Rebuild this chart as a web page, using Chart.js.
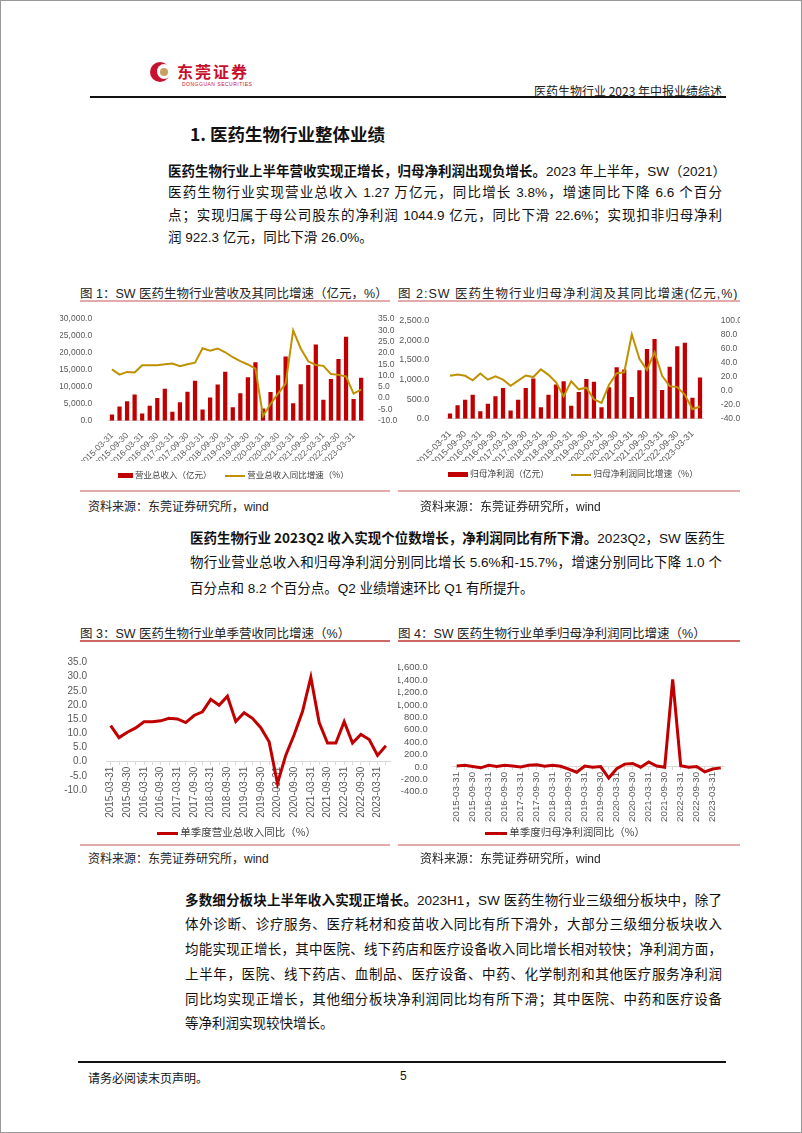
<!DOCTYPE html>
<html lang="zh-CN">
<head>
<meta charset="UTF-8">
<title>医药生物行业2023年中报业绩综述</title>
<script src="https://cdn.jsdelivr.net/npm/chart.js@4.4.0/dist/chart.umd.min.js"></script>
<style>
  body { margin:0; width:802px; height:1133px; position:relative; background:#fff; overflow:hidden;
         font-family:"Liberation Sans","Noto Sans CJK SC",sans-serif; color:#111; }
  .a { position:absolute; }
  .ln { position:absolute; text-align:justify; text-align-last:justify; white-space:nowrap; }
  .ln.last { text-align-last:left; }
  .p1 { font-size:13.5px; height:22px; line-height:22px; }
  b { font-family:"Noto Sans CJK SC",sans-serif; font-weight:700; }
  .cap { font-size:12.5px; color:#222; white-space:nowrap; }
  .src { font-size:12px; color:#222; white-space:nowrap; }
  .rule { position:absolute; height:1.5px; }
  .leg { position:absolute; font-family:"Noto Sans CJK SC",sans-serif; color:#404040; white-space:nowrap; }
  .leg i { display:inline-block; vertical-align:middle; }
  canvas { position:absolute; }
</style>
</head>
<body>
<div class="a" style="left:0;top:0;width:800px;height:1131px;border:1px solid #999"></div>

<!-- header -->
<div class="a" style="left:150px;top:62px;width:20px;height:20px;border-radius:50%;background:#C8102E"></div>
<div class="a" style="left:157px;top:64px;width:14px;height:15px;border-radius:50%;background:#fff"></div>
<div class="a" style="left:160px;top:68px;width:8px;height:8px;border-radius:50%;background:#C9A063"></div>
<div class="a" style="left:177px;top:59px;font-size:16px;font-weight:700;color:#C8102E;letter-spacing:2px;font-family:'Noto Sans CJK SC'">东莞证券</div>
<div class="a" style="left:182px;top:81px;font-size:5px;color:#C8102E;letter-spacing:0.5px">DONGGUAN SECURITIES</div>
<div class="a" style="left:500px;top:82px;width:222px;text-align:right;font-size:12px;color:#222;white-space:nowrap;font-family:'Noto Sans CJK SC'">医药生物行业 2023 年中报业绩综述</div>
<div class="rule" style="left:90px;top:96px;width:636px;background:#111"></div>

<div class="a" style="left:190px;top:121px;font-size:17.5px;font-weight:700;font-family:'Noto Sans CJK SC'">1. 医药生物行业整体业绩</div>

<div class="ln p1" style="left:168px;top:159px;width:554px"><b>医药生物行业上半年营收实现正增长，归母净利润出现负增长。</b>2023 年上半年，SW（2021）</div>
<div class="ln p1" style="left:168px;top:182px;width:554px">医药生物行业实现营业总收入 1.27 万亿元，同比增长 3.8%，增速同比下降 6.6 个百分</div>
<div class="ln p1" style="left:168px;top:205px;width:554px">点；实现归属于母公司股东的净利润 1044.9 亿元，同比下滑 22.6%；实现扣非归母净利</div>
<div class="ln p1 last" style="left:168px;top:227px;width:554px">润 922.3 亿元，同比下滑 26.0%。</div>

<!-- figure 1 / 2 -->
<div class="a cap" style="left:80px;top:283px">图 1：SW 医药生物行业营收及其同比增速（亿元，%）</div>
<div class="a cap" style="left:398px;top:283px;letter-spacing:1px">图 2:SW 医药生物行业归母净利润及其同比增速(亿元,%)</div>
<div class="rule" style="left:80px;top:300px;width:310px;background:#E2AAAA"></div>
<div class="rule" style="left:398px;top:300px;width:342px;background:#E2AAAA"></div>
<canvas id="c1" width="340" height="180" style="left:60px;top:306px"></canvas>
<canvas id="c2" width="342" height="180" style="left:398px;top:306px"></canvas>
<div class="leg" style="left:118px;top:468px;font-size:8.5px"><i style="width:15px;height:5px;background:#C00000"></i> 营业总收入（亿元）<span style="display:inline-block;width:14px"></span><i style="width:20px;height:2px;background:#BF9000"></i> 营业总收入同比增速（%）</div>
<div class="leg" style="left:448px;top:467px;font-size:8.8px"><i style="width:20px;height:5px;background:#C00000"></i> 归母净利润（亿元）<span style="display:inline-block;width:22px"></span><i style="width:20px;height:2px;background:#BF9000"></i> 归母净利润同比增速（%）</div>
<div class="rule" style="left:80px;top:490px;width:310px;background:#E2AAAA"></div>
<div class="rule" style="left:398px;top:490px;width:342px;background:#E2AAAA"></div>
<div class="a src" style="left:88px;top:497px">资料来源：东莞证券研究所，wind</div>
<div class="a src" style="left:420px;top:497px">资料来源：东莞证券研究所，wind</div>

<div class="ln p1" style="left:190px;top:524px;width:532px;height:26px;line-height:26px"><b>医药生物行业 2023Q2 收入实现个位数增长，净利润同比有所下滑。</b>2023Q2，SW 医药生</div>
<div class="ln p1" style="left:190px;top:550px;width:532px;height:26px;line-height:26px">物行业营业总收入和归母净利润分别同比增长 5.6%和-15.7%，增速分别同比下降 1.0 个</div>
<div class="ln p1 last" style="left:190px;top:576px;width:532px;height:26px;line-height:26px">百分点和 8.2 个百分点。Q2 业绩增速环比 Q1 有所提升。</div>

<!-- figure 3 / 4 -->
<div class="a cap" style="left:80px;top:623px">图 3：SW 医药生物行业单季营收同比增速（%）</div>
<div class="a cap" style="left:398px;top:623px">图 4：SW 医药生物行业单季归母净利润同比增速（%）</div>
<div class="rule" style="left:80px;top:640px;width:310px;background:#D06868"></div>
<div class="rule" style="left:398px;top:640px;width:342px;background:#D06868"></div>
<canvas id="c3" width="340" height="200" style="left:60px;top:645px"></canvas>
<canvas id="c4" width="342" height="200" style="left:398px;top:645px"></canvas>
<div class="leg" style="left:157px;top:824px;font-size:10.5px"><i style="width:21px;height:3px;background:#C00000"></i> 单季度营业总收入同比（%）</div>
<div class="leg" style="left:485px;top:824px;font-size:10.5px"><i style="width:22px;height:3px;background:#C00000"></i> 单季度归母净利润同比（%）</div>
<div class="rule" style="left:80px;top:844px;width:310px;background:#E2AAAA"></div>
<div class="rule" style="left:398px;top:844px;width:342px;background:#E2AAAA"></div>
<div class="a src" style="left:88px;top:849px">资料来源：东莞证券研究所，wind</div>
<div class="a src" style="left:420px;top:849px">资料来源：东莞证券研究所，wind</div>

<div class="ln p1" style="left:185px;top:887px;width:537px;height:25px;line-height:25px"><b>多数细分板块上半年收入实现正增长。</b>2023H1，SW 医药生物行业三级细分板块中，除了</div>
<div class="ln p1" style="left:185px;top:912px;width:537px;height:25px;line-height:25px">体外诊断、诊疗服务、医疗耗材和疫苗收入同比有所下滑外，大部分三级细分板块收入</div>
<div class="ln p1" style="left:185px;top:937px;width:537px;height:25px;line-height:25px">均能实现正增长，其中医院、线下药店和医疗设备收入同比增长相对较快；净利润方面，</div>
<div class="ln p1" style="left:185px;top:962px;width:537px;height:25px;line-height:25px">上半年，医院、线下药店、血制品、医疗设备、中药、化学制剂和其他医疗服务净利润</div>
<div class="ln p1" style="left:185px;top:987px;width:537px;height:25px;line-height:25px">同比均实现正增长，其他细分板块净利润同比均有所下滑；其中医院、中药和医疗设备</div>
<div class="ln p1 last" style="left:185px;top:1011px;width:537px;height:25px;line-height:25px">等净利润实现较快增长。</div>

<!-- footer -->
<div class="rule" style="left:78px;top:1061px;width:648px;background:#111"></div>
<div class="a" style="left:88px;top:1069px;font-size:12px;font-family:'Noto Sans CJK SC'">请务必阅读末页声明。</div>
<div class="a" style="left:400px;top:1069px;font-size:12px">5</div>

<script>
// 季度标签 2015Q1 - 2023Q2
const quarters = [
  '2015-03-31','2015-06-30','2015-09-30','2015-12-31',
  '2016-03-31','2016-06-30','2016-09-30','2016-12-31',
  '2017-03-31','2017-06-30','2017-09-30','2017-12-31',
  '2018-03-31','2018-06-30','2018-09-30','2018-12-31',
  '2019-03-31','2019-06-30','2019-09-30','2019-12-31',
  '2020-03-31','2020-06-30','2020-09-30','2020-12-31',
  '2021-03-31','2021-06-30','2021-09-30','2021-12-31',
  '2022-03-31','2022-06-30','2022-09-30','2022-12-31',
  '2023-03-31','2023-06-30'
];

// 图1 营业总收入（亿元，累计）及同比（%）
const revenue = [1810,4190,5710,7710, 2100,4380,6670,9430, 2670,5430,8570,11810, 3330,6860,10670,14480,
                 4000,8100,12860,17240, 3620,8480,13430,18950, 5140,10760,16480,22480, 6190,12290,18190,24760, 6380,12670];
const revenueYoY = [12.7,10.4,11.6,11.4, 14.6,14.6,14.6,15.0, 15.3,14.1,15.0,15.7, 22.1,21.0,22.0,20.3,
                    18.1,16.4,14.9,13.1, -7.9,-2.6,2.0,6.4, 30.0,22.0,16.3,14.7, 14.3,10.7,10.3,9.6, 2.0,3.8];

// 图2 归母净利润（亿元，累计）及同比（%）
const profit = [130,340,480,610, 190,380,570,780, 210,480,780,1020, 290,610,870,950,
                330,680,1010,940, 290,800,1310,1250, 550,1230,1770,2030, 730,1320,1840,1930, 530,1045];
const profitYoY = [21.1,22.9,21.1,14.7, 24.3,15.6,20.2,15.6, 6.9,14.2,21.6,19.3, 30.3,22.5,11.9,-8.3,
                   13.3,1.8,4.1,-12.4, -17.4,8.3,24.8,26.1, 80.3,45.4,29.4,54.6, 21.1,6.4,5.0,-6.0, -26.6,-22.6];

// 图3 单季度营业总收入同比（%）
const qRevenueYoY = [12.7,8.5,10.4,11.9, 14.1,14.1,14.4,15.3, 15.1,13.8,16.3,17.6, 22.0,19.9,23.1,14.2,
                     17.3,15.3,12.0,7.0, -7.7,2.3,9.5,17.7, 29.8,13.8,6.6,6.6, 14.1,6.6,9.6,7.8, 2.2,5.6];

// 图4 单季度归母净利润同比（%）
const qProfitYoY = [15,25,5,-15, 25,5,25,15, 0,25,35,10, 25,10,-35,-85,
                    15,-5,5,-180, -30,45,55,-5, 80,15,-5,1410, 20,-5,5,-80, -35,-15.7];

const RED = '#C00000', GOLD = '#BF9000', TICK = '#595959';
const fmt1 = v => Number(v).toLocaleString('en-US', {minimumFractionDigits:1, maximumFractionDigits:1});
const everyOther = (v, i) => i % 2 === 0 ? quarters[i] : '';
const narrow = s => ({family:'"Liberation Sans Narrow","Liberation Sans",Arial', size:s});
const sans = s => ({family:'"Liberation Sans",Arial', size:s});

function fixW(w) { return s => { s.width = w; }; }
function fixH(h) { return s => { s.height = h; }; }

function comboChart(id, bars, barLabel, line, lineLabel, left, right, geo) {
  return new Chart(document.getElementById(id), {
    type: 'bar',
    data: {
      labels: quarters,
      datasets: [
        { type:'line', label:lineLabel, data:line, yAxisID:'y1', borderColor:GOLD, borderWidth:2,
          pointRadius:0, tension:0, order:0 },
        { type:'bar', label:barLabel, data:bars, yAxisID:'y', backgroundColor:RED,
          barPercentage:0.56, categoryPercentage:1, order:1 }
      ]
    },
    options: {
      responsive:false, animation:false,
      layout:{ padding:{ top:geo.top, right:0, bottom:geo.bottom, left:0 } },
      plugins:{ legend:{display:false}, tooltip:{enabled:false} },
      scales: {
        x: { grid:{display:false}, border:{color:'#D9D9D9'},
             ticks:{ autoSkip:false, minRotation:45, maxRotation:45, padding:2, color:TICK, font:narrow(geo.xFont), callback:everyOther },
             afterFit: fixH(geo.xH) },
        y: { position:'left', min:left[0], max:left[1], grid:{display:false}, border:{display:false},
             ticks:{ autoSkip:false, stepSize:left[2], padding:geo.lp, color:TICK, font:narrow(geo.lFont), callback:fmt1 },
             afterFit: fixW(geo.lw) },
        y1:{ position:'right', min:right[0], max:right[1], grid:{display:false}, border:{display:false},
             ticks:{ autoSkip:false, stepSize:right[2], padding:geo.rp, color:TICK, font:narrow(geo.rFont), callback:fmt1 },
             afterFit: fixW(geo.rw) }
      }
    }
  });
}

comboChart('c1', revenue, '营业总收入（亿元）', revenueYoY, '营业总收入同比增速（%）',
  [0, 30000, 5000], [-10, 35, 5],
  { top:9.7, bottom:25, xH:40.3, lw:48.2, rw:35.1, lp:8, rp:5, xFont:8.5, lFont:8.5, rFont:8.5 });

comboChart('c2', profit, '归母净利润（亿元）', profitYoY, '归母净利润同比增速（%）',
  [0, 2500, 500], [-40, 100, 20],
  { top:11.3, bottom:25, xH:42.3, lw:48.2, rw:36.2, lp:9, rp:9, xFont:9, lFont:9, rFont:8.5 });

function quarterLine(id, series, label, yr, geo) {
  return new Chart(document.getElementById(id), {
    type: 'line',
    data: { labels: quarters,
            datasets: [{ label, data:series, borderColor:RED, borderWidth:3, pointRadius:0, tension:0 }] },
    options: {
      responsive:false, animation:false,
      layout:{ padding:{ top:geo.top, right:geo.right, bottom:geo.bottom, left:0 } },
      plugins:{ legend:{display:false}, tooltip:{enabled:false} },
      scales: {
        x: { position:{ y:0 }, offset:true,
             grid:{ display:true, drawOnChartArea:false, drawTicks:true, tickLength:3, color:'#D9D9D9' },
             border:{ color:'#D9D9D9' },
             ticks:{ autoSkip:false, minRotation:90, maxRotation:90, padding:2, color:TICK, font:sans(geo.xFont), callback:everyOther } },
        y: { min:yr[0], max:yr[1], grid:{display:false}, border:{display:false},
             ticks:{ autoSkip:false, stepSize:yr[2], padding:geo.lp, color:TICK, font:geo.yFont, callback:fmt1 },
             afterFit: fixW(geo.lw) }
      }
    }
  });
}

quarterLine('c3', qRevenueYoY, '单季度营业总收入同比（%）', [-10, 35, 5],
  { top:12.3, right:7.8, bottom:55, lw:46.5, lp:11.5, xFont:10, yFont:sans(10) });

quarterLine('c4', qProfitYoY, '单季度归母净利润同比（%）', [-400, 1600, 200],
  { top:10, right:15.3, bottom:53.3, lw:54.7, lp:17, xFont:9.8, yFont:narrow(9.5) });
</script>
</body>
</html>
